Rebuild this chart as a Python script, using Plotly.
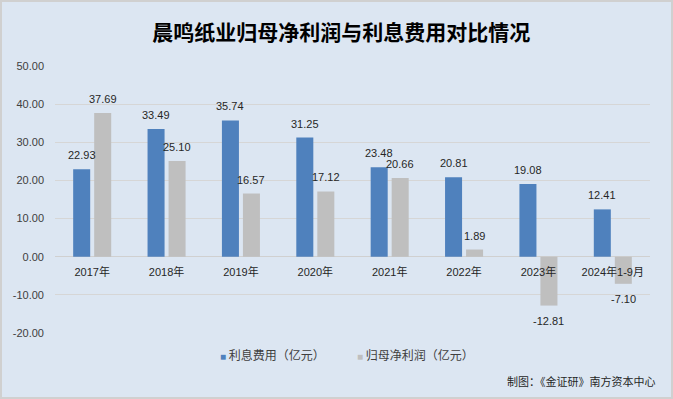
import plotly.graph_objects as go

categories = ["2017年", "2018年", "2019年", "2020年", "2021年", "2022年", "2023年", "2024年1-9月"]
interest_expense = [22.93, 33.49, 35.74, 31.25, 23.48, 20.81, 19.08, 12.41]
net_profit = [37.69, 25.10, 16.57, 17.12, 20.66, 1.89, -12.81, -7.10]
y_ticks = [-20, -10, 0, 10, 20, 30, 40, 50]

FONT = "Liberation Sans, Arial, Noto Sans CJK SC, sans-serif"
BG = "#DCE6F2"
BLUE = "#4F81BD"
GREY = "#BFBFBF"
LABEL_FONT = dict(size=11, color="#262626", family=FONT)

fig = go.Figure()
fig.add_trace(go.Bar(
    x=categories, y=interest_expense, name="利息费用（亿元）", legendgroup="a",
    showlegend=False, marker=dict(color=BLUE, line=dict(width=0)),
))
fig.add_trace(go.Bar(
    x=categories, y=net_profit, name="归母净利润（亿元）", legendgroup="b",
    showlegend=False, marker=dict(color=GREY, line=dict(width=0)),
))
# legend entries: coloured square glyph inside the entry text
for name, col, grp, lg in [("利息费用（亿元）", BLUE, "a", "legend"),
                           ("归母净利润（亿元）", GREY, "b", "legend2")]:
    fig.add_trace(go.Scatter(
        x=[None], y=[None], mode="markers", legendgroup=grp, showlegend=True, legend=lg,
        name=f"<span style='color:{col};font-size:10px'>■ </span>{name}",
        marker=dict(symbol="square", size=0, color="rgba(0,0,0,0)")))

W, H = 673, 399
L, R, T, B = 55, 23, 66, 66
pw, ph = W - L - R, H - T - B

# data labels placed at each bar's value
annotations = []
for cat, v in zip(categories, interest_expense):
    annotations.append(dict(x=cat, y=v, xref="x", yref="y", text=f"{v:.2f}", showarrow=False,
                            xshift=-10.5, yshift=14, yanchor="middle", font=LABEL_FONT))
for cat, v in zip(categories, net_profit):
    annotations.append(dict(x=cat, y=v, xref="x", yref="y", text=f"{v:.2f}", showarrow=False,
                            xshift=10.5, yshift=14 if v >= 0 else -15, yanchor="middle", font=LABEL_FONT))
annotations.append(dict(text="制图：《金证研》南方资本中心", xref="paper", yref="paper",
                        x=(658 - L) / pw, xanchor="right", y=-(381 - (H - B)) / ph, yanchor="middle",
                        showarrow=False, font=dict(size=11, color="#262626", family=FONT)))

legend_style = dict(orientation="h", xanchor="left", y=-22 / ph, yanchor="middle",
                    font=dict(size=12, color="#404040", family=FONT),
                    bgcolor="rgba(0,0,0,0)", itemwidth=30)

fig.update_layout(
    width=W, height=H,
    margin=dict(l=L, r=R, t=T, b=B),
    paper_bgcolor=BG, plot_bgcolor=BG,
    font=dict(family=FONT, size=11, color="#404040"),
    barmode="group", bargap=0.435, bargroupgap=0.19,
    title=dict(text="<b>晨鸣纸业归母净利润与利息费用对比情况</b>",
               x=0.507, xref="container", xanchor="center",
               y=1 - 33 / H, yref="container", yanchor="middle",
               font=dict(size=21, color="#000000", family=FONT)),
    showlegend=True,
    legend=dict(x=(180 - L) / pw, **legend_style),
    legend2=dict(x=(317 - L) / pw, **legend_style),
    xaxis=dict(type="category", anchor="free", position=20 / 70,
               showgrid=False, showline=False, ticks="", ticklabelstandoff=7,
               tickfont=dict(size=11, color="#262626", family=FONT)),
    yaxis=dict(range=[-20, 50], tickvals=y_ticks,
               ticktext=[f"{v:.2f}" for v in y_ticks],
               showgrid=True, gridcolor="#D6D6D6", gridwidth=1,
               zeroline=True, zerolinecolor="#D0D0D0", zerolinewidth=1,
               showline=False, ticks="", ticklabelstandoff=10,
               tickfont=dict(size=11, color="#404040", family=FONT)),
    annotations=annotations,
    shapes=[dict(type="rect", xref="paper", yref="paper",
                 x0=(1 - L) / pw, x1=(W - 1 - L) / pw,
                 y0=-(B - 1) / ph, y1=(H - 1 - B) / ph,
                 line=dict(color="#D0D0D0", width=2), layer="below")],
)

fig.write_html("out.html", config={"displayModeBar": False},
               post_script="document.body.style.margin='0';document.body.style.padding='0';")
